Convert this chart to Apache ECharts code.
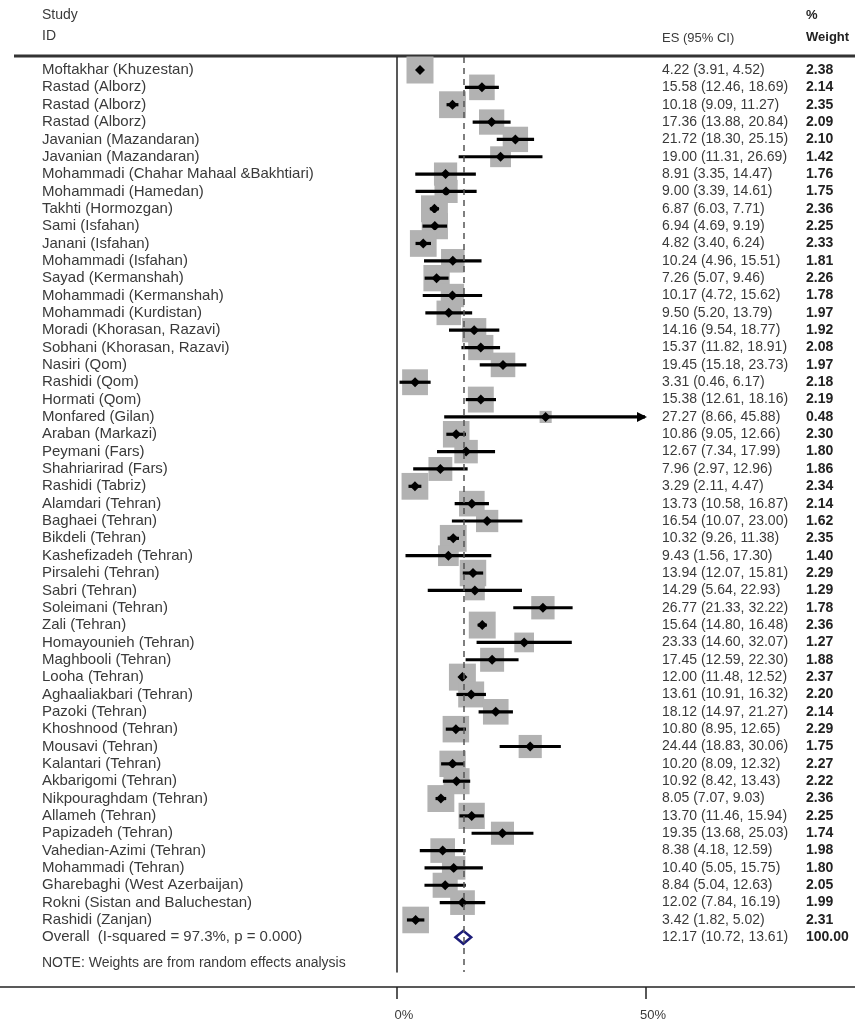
<!DOCTYPE html>
<html>
<head>
<meta charset="UTF-8">
<title>Forest plot</title>
<script src="https://cdn.jsdelivr.net/npm/echarts@6/dist/echarts.min.js"></script>
<style>
  html, body { margin: 0; padding: 0; background: #fff; }
  #chart { width: 855px; height: 1024px; }
</style>
</head>
<body>
<div id="chart"></div>
<script type="text/javascript">
// study labels
var studies = [
  'Moftakhar (Khuzestan)', 'Rastad (Alborz)', 'Rastad (Alborz)', 'Rastad (Alborz)',
  'Javanian (Mazandaran)', 'Javanian (Mazandaran)', 'Mohammadi (Chahar Mahaal &Bakhtiari)',
  'Mohammadi (Hamedan)', 'Takhti (Hormozgan)', 'Sami (Isfahan)', 'Janani (Isfahan)',
  'Mohammadi (Isfahan)', 'Sayad (Kermanshah)', 'Mohammadi (Kermanshah)', 'Mohammadi (Kurdistan)',
  'Moradi (Khorasan, Razavi)', 'Sobhani (Khorasan, Razavi)', 'Nasiri (Qom)', 'Rashidi (Qom)',
  'Hormati (Qom)', 'Monfared (Gilan)', 'Araban (Markazi)', 'Peymani (Fars)', 'Shahriarirad (Fars)',
  'Rashidi (Tabriz)', 'Alamdari (Tehran)', 'Baghaei (Tehran)', 'Bikdeli (Tehran)',
  'Kashefizadeh (Tehran)', 'Pirsalehi (Tehran)', 'Sabri (Tehran)', 'Soleimani (Tehran)',
  'Zali (Tehran)', 'Homayounieh (Tehran)', 'Maghbooli (Tehran)', 'Looha (Tehran)',
  'Aghaaliakbari (Tehran)', 'Pazoki (Tehran)', 'Khoshnood (Tehran)', 'Mousavi (Tehran)',
  'Kalantari (Tehran)', 'Akbarigomi (Tehran)', 'Nikpouraghdam (Tehran)', 'Allameh (Tehran)',
  'Papizadeh (Tehran)', 'Vahedian-Azimi (Tehran)', 'Mohammadi (Tehran)',
  'Gharebaghi (West Azerbaijan)', 'Rokni (Sistan and Baluchestan)', 'Rashidi (Zanjan)'
];

// effect size and 95% CI (%)
var es = [4.22, 15.58, 10.18, 17.36, 21.72, 19.00, 8.91, 9.00, 6.87, 6.94, 4.82, 10.24, 7.26, 10.17,
  9.50, 14.16, 15.37, 19.45, 3.31, 15.38, 27.27, 10.86, 12.67, 7.96, 3.29, 13.73, 16.54, 10.32,
  9.43, 13.94, 14.29, 26.77, 15.64, 23.33, 17.45, 12.00, 13.61, 18.12, 10.80, 24.44, 10.20, 10.92,
  8.05, 13.70, 19.35, 8.38, 10.40, 8.84, 12.02, 3.42];
var lo = [3.91, 12.46, 9.09, 13.88, 18.30, 11.31, 3.35, 3.39, 6.03, 4.69, 3.40, 4.96, 5.07, 4.72,
  5.20, 9.54, 11.82, 15.18, 0.46, 12.61, 8.66, 9.05, 7.34, 2.97, 2.11, 10.58, 10.07, 9.26,
  1.56, 12.07, 5.64, 21.33, 14.80, 14.60, 12.59, 11.48, 10.91, 14.97, 8.95, 18.83, 8.09, 8.42,
  7.07, 11.46, 13.68, 4.18, 5.05, 5.04, 7.84, 1.82];
var hi = [4.52, 18.69, 11.27, 20.84, 25.15, 26.69, 14.47, 14.61, 7.71, 9.19, 6.24, 15.51, 9.46, 15.62,
  13.79, 18.77, 18.91, 23.73, 6.17, 18.16, 45.88, 12.66, 17.99, 12.96, 4.47, 16.87, 23.00, 11.38,
  17.30, 15.81, 22.93, 32.22, 16.48, 32.07, 22.30, 12.52, 16.32, 21.27, 12.65, 30.06, 12.32, 13.43,
  9.03, 15.94, 25.03, 12.59, 15.75, 12.63, 16.19, 5.02];
// % weight
var weight = [2.38, 2.14, 2.35, 2.09, 2.10, 1.42, 1.76, 1.75, 2.36, 2.25, 2.33, 1.81, 2.26, 1.78,
  1.97, 1.92, 2.08, 1.97, 2.18, 2.19, 0.48, 2.30, 1.80, 1.86, 2.34, 2.14, 1.62, 2.35,
  1.40, 2.29, 1.29, 1.78, 2.36, 1.27, 1.88, 2.37, 2.20, 2.14, 2.29, 1.75, 2.27, 2.22,
  2.36, 2.25, 1.74, 1.98, 1.80, 2.05, 1.99, 2.31];

// pooled estimate
var overallLabel = 'Overall  (I-squared = 97.3%, p = 0.000)';
var overall = { es: 12.17, lo: 10.72, hi: 13.61, weight: 100.00 };

// bottom axis ticks
var axisTicks = [0, 50];

var FONT = 'Liberation Sans, Arial, sans-serif';
var TXT = '#3a3a3a';
var xMax = 45.5;   // CI beyond this gets an arrow
var overallRow = studies.length;

function ciText(e, l, h) {
  return e.toFixed(2) + ' (' + l.toFixed(2) + ', ' + h.toFixed(2) + ')';
}

var rows = [];
for (var i = 0; i < studies.length; i++) {
  rows.push([i, es[i], lo[i], hi[i], weight[i]]);
}

var textRows = [];
for (var i = 0; i < studies.length; i++) {
  textRows.push([i, studies[i], ciText(es[i], lo[i], hi[i]), weight[i].toFixed(2)]);
}
textRows.push([overallRow, overallLabel, ciText(overall.es, overall.lo, overall.hi), overall.weight.toFixed(2)]);

var chart = echarts.init(document.getElementById('chart'));

var option = {
  backgroundColor: '#fff',
  animation: false,
  grid: [
    { left: 397, width: 248, top: 57, height: 915 },
    { left: 0, right: 0, top: 986, height: 1 }
  ],
  xAxis: [
    { gridIndex: 0, type: 'value', min: 0, max: xMax, show: false },
    {
      gridIndex: 1, type: 'value', min: -79.72, max: 91.97,
      axisLine: { show: true, lineStyle: { color: '#222', width: 1.5 } },
      axisTick: { show: true, length: 12, lineStyle: { color: '#222', width: 1.5 }, customValues: axisTicks },
      axisLabel: {
        show: true, margin: 22, color: TXT, fontFamily: FONT, fontSize: 13,
        padding: [0, 0, 0, 14],
        customValues: axisTicks, formatter: '{value}%'
      },
      splitLine: { show: false }
    }
  ],
  yAxis: [
    {
      gridIndex: 0, type: 'value', inverse: true, min: -0.75, max: 52,
      axisLine: { show: true, onZero: false, lineStyle: { color: '#222', width: 1.5 } },
      axisTick: { show: false }, axisLabel: { show: false }, splitLine: { show: false }
    },
    { gridIndex: 1, type: 'value', show: false }
  ],
  graphic: [
    { type: 'line', shape: { x1: 14, y1: 56, x2: 855, y2: 56 }, style: { stroke: '#333', lineWidth: 3 } },
    { type: 'text', x: 42, y: 15, style: { text: 'Study', fill: TXT, font: '14px ' + FONT, verticalAlign: 'middle' } },
    { type: 'text', x: 42, y: 36, style: { text: 'ID', fill: TXT, font: '14px ' + FONT, verticalAlign: 'middle' } },
    { type: 'text', x: 662, y: 38, style: { text: 'ES (95% CI)', fill: TXT, font: '13px ' + FONT, verticalAlign: 'middle' } },
    { type: 'text', x: 806, y: 15, style: { text: '%', fill: '#222', font: 'bold 13px ' + FONT, verticalAlign: 'middle' } },
    { type: 'text', x: 806, y: 37, style: { text: 'Weight', fill: '#222', font: 'bold 13px ' + FONT, verticalAlign: 'middle' } },
    { type: 'text', x: 42, y: 963, style: { text: 'NOTE: Weights are from random effects analysis', fill: TXT, font: '14px ' + FONT, verticalAlign: 'middle' } }
  ],
  series: [
    {
      // study markers: weight square, CI line, point estimate
      type: 'custom',
      xAxisIndex: 0, yAxisIndex: 0,
      clip: false,
      data: rows,
      renderItem: function (params, api) {
        var row = api.value(0);
        var p = api.coord([api.value(1), row]);
        var l = api.coord([api.value(2), row]);
        var h = api.coord([Math.min(api.value(3), xMax), row]);
        var side = 17.5 * Math.sqrt(api.value(4));
        var kids = [
          { type: 'rect', shape: { x: p[0] - side / 2, y: p[1] - side / 2, width: side, height: side },
            style: { fill: '#b2b2b2' } },
          { type: 'line', shape: { x1: l[0], y1: l[1], x2: h[0], y2: h[1] },
            style: { stroke: '#000', lineWidth: 3.2 } },
          { type: 'polygon', shape: { points: [[p[0] - 5, p[1]], [p[0], p[1] - 5], [p[0] + 5, p[1]], [p[0], p[1] + 5]] },
            style: { fill: '#000' } }
        ];
        if (api.value(3) > xMax) {
          kids.push({ type: 'polygon',
            shape: { points: [[h[0] - 8, h[1] - 5], [h[0] + 2, h[1]], [h[0] - 8, h[1] + 5]] },
            style: { fill: '#000' } });
        }
        return { type: 'group', children: kids };
      }
    },
    {
      // pooled diamond and its dashed reference line
      type: 'custom',
      xAxisIndex: 0, yAxisIndex: 0,
      clip: false,
      data: [[overallRow, overall.es, overall.lo, overall.hi]],
      renderItem: function (params, api) {
        var row = api.value(0);
        var p = api.coord([api.value(1), row]);
        var l = api.coord([api.value(2), row]);
        var h = api.coord([api.value(3), row]);
        return {
          type: 'polygon',
          shape: { points: [[l[0], l[1]], [p[0], p[1] - 6.5], [h[0], h[1]], [p[0], p[1] + 6.5]] },
          style: { fill: '#fff', stroke: '#1c1c78', lineWidth: 2.5 }
        };
      },
      markLine: {
        silent: true,
        symbol: 'none',
        label: { show: false },
        lineStyle: { color: '#555', type: [6, 5], width: 1.5 },
        data: [{ xAxis: overall.es }]
      }
    },
    {
      // text columns
      type: 'custom',
      xAxisIndex: 0, yAxisIndex: 0,
      clip: false,
      data: textRows,
      renderItem: function (params, api) {
        var row = api.value(0);
        var y = api.coord([0, row])[1];
        var d = textRows[params.dataIndex];
        return {
          type: 'group',
          children: [
            { type: 'text', x: 42, y: y, style: { text: d[1], fill: TXT, font: '15px ' + FONT, verticalAlign: 'middle' } },
            { type: 'text', x: 662, y: y, style: { text: d[2], fill: TXT, font: '14px ' + FONT, verticalAlign: 'middle' } },
            { type: 'text', x: 806, y: y, style: { text: d[3], fill: '#222', font: 'bold 14px ' + FONT, verticalAlign: 'middle' } }
          ]
        };
      }
    }
  ]
};

chart.setOption(option);
</script>
</body>
</html>
